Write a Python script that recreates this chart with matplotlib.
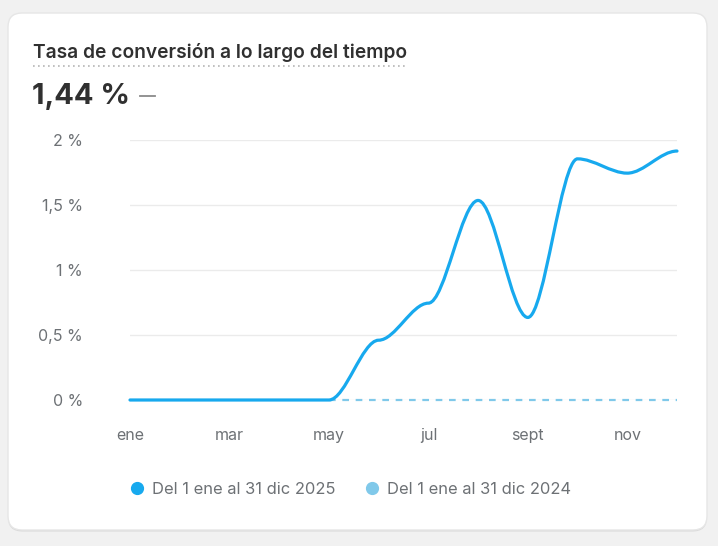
import numpy as np
import matplotlib
matplotlib.use("Agg")
import matplotlib.pyplot as plt
from matplotlib.path import Path
from matplotlib.patches import PathPatch, FancyBboxPatch
from matplotlib.lines import Line2D

plt.rcParams['font.family'] = ['Inter', 'DejaVu Sans']

# Data
months = ["ene", "feb", "mar", "abr", "may", "jun", "jul", "ago", "sept", "oct", "nov", "dic"]
rate_2025 = [0, 0, 0, 0, 0, 0.46, 0.745, 1.535, 0.635, 1.855, 1.745, 1.915]
rate_2024 = [np.nan, np.nan, np.nan, np.nan, 0, 0, 0, 0, 0, 0, 0, 0]
yticks = [0, 0.5, 1, 1.5, 2]
ytick_labels = ["0 %", "0,5 %", "1 %", "1,5 %", "2 %"]
xtick_idx = [0, 2, 4, 6, 8, 10]
legend_labels = ["Del 1 ene al 31 dic 2025", "Del 1 ene al 31 dic 2024"]
title = "Tasa de conversión a lo largo del tiempo"
total = "1,44 %"

c_cur = "#17a9ee"
c_prev = "#80c9ea"
c_text = "#6d7175"

W, H = 718, 546
fig = plt.figure(figsize=(W / 100, H / 100), dpi=100)
fig.patch.set_facecolor("#f1f1f1")

# card (with a faint shadow underneath)
shadow = FancyBboxPatch((8 / 100, (H - 531.5) / 100), 699 / 100, 517 / 100,
                        boxstyle="round,pad=0,rounding_size=0.14",
                        transform=fig.dpi_scale_trans, facecolor="#d9d9d9",
                        edgecolor="none", zorder=-11)
fig.patches.append(shadow)
card = FancyBboxPatch((8 / 100, (H - 530) / 100), 699 / 100, 517 / 100,
                      boxstyle="round,pad=0,rounding_size=0.14",
                      transform=fig.dpi_scale_trans, facecolor="white",
                      edgecolor="#e6e6e6", linewidth=1, zorder=-10)
fig.patches.append(card)

ax = fig.add_axes([130 / W, 1 - 400 / H, 547 / W, 260 / H])
ax.set_facecolor("none")
ax.set_zorder(2)

x = np.arange(len(months))

# smooth line with flat tangents at every point (cubic bezier)
verts = [(x[0], rate_2025[0])]
codes = [Path.MOVETO]
for i in range(len(x) - 1):
    dx = (x[i + 1] - x[i]) / 3
    verts += [(x[i] + dx, rate_2025[i]), (x[i + 1] - dx, rate_2025[i + 1]), (x[i + 1], rate_2025[i + 1])]
    codes += [Path.CURVE4] * 3
ax.add_patch(PathPatch(Path(verts, codes), fill=False, edgecolor=c_cur, lw=2.3,
                       capstyle="round", zorder=3, clip_on=False))

ax.plot(x, rate_2024, color=c_prev, lw=1.6, ls=(0, (3, 3)), zorder=2, clip_on=False)

ax.set_xlim(0, 11)
ax.set_ylim(0, 2)
ax.set_yticks(yticks)
ax.set_yticklabels(ytick_labels)
ax.set_xticks(xtick_idx)
ax.set_xticklabels([months[i] for i in xtick_idx])
ax.grid(axis="y", color="#ebebeb", lw=1)
ax.set_axisbelow(True)
for s in ax.spines.values():
    s.set_visible(False)
ax.tick_params(axis="both", length=0, colors=c_text, labelsize=11.5)
ax.tick_params(axis="y", pad=34)
ax.tick_params(axis="x", pad=20)

# header
fig.text(33 / W, 1 - 52 / H, title, fontsize=13.8, fontweight="semibold",
         color="#303030", va="center", ha="left")
fig.add_artist(Line2D([33 / W, 408 / W], [1 - 66 / H, 1 - 66 / H], color="#b5b5b5",
                      lw=1.2, ls=(0, (1, 2))))
fig.text(32 / W, 1 - 96 / H, total, fontsize=21, fontweight="bold",
         color="#303030", va="center", ha="left")
fig.add_artist(Line2D([140 / W, 155 / W], [1 - 96 / H, 1 - 96 / H], color="#8a8a8a", lw=1.3))

# legend
handles = [Line2D([], [], marker="o", ls="none", color=c, markersize=8.5) for c in (c_cur, c_prev)]
fig.legend(handles, legend_labels, loc="center", bbox_to_anchor=(350 / W, 1 - 489 / H),
           ncol=2, frameon=False, fontsize=11.9, labelcolor=c_text,
           handletextpad=0.4, columnspacing=1.7, handlelength=1)

fig.savefig("out.png", dpi=100, facecolor=fig.get_facecolor())
